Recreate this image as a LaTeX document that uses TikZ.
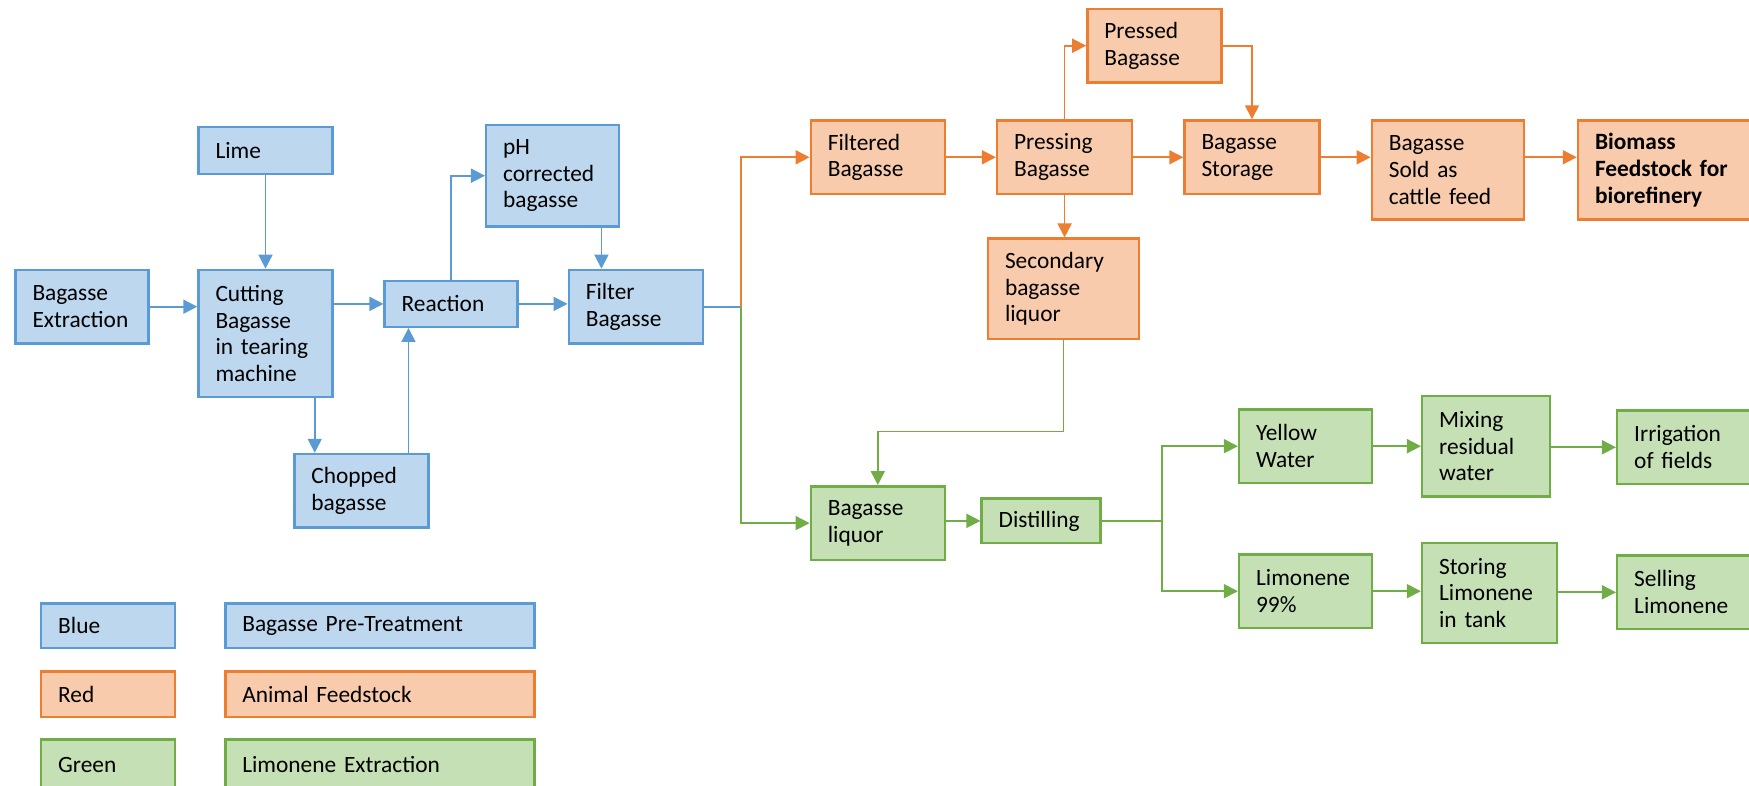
\documentclass[tikz,border=0pt]{standalone}
\usepackage{fontspec}
\setmainfont{Carlito}
\usepackage{tikz}
\usetikzlibrary{positioning,arrows.meta,calc}

\definecolor{blueFill}{HTML}{BDD7EE}
\definecolor{blueLine}{HTML}{5B9BD5}
\definecolor{orangeFill}{HTML}{F8CBAD}
\definecolor{orangeLine}{HTML}{ED7D31}
\definecolor{greenFill}{HTML}{C5E0B4}
\definecolor{greenLine}{HTML}{70AD47}

\begin{document}
\begin{tikzpicture}[font=\fontsize{6.65}{7.6}\selectfont,
  box/.style={draw, line width=0.7pt, align=left, inner xsep=0.17cm, inner ysep=0pt, anchor=center},
  pre/.style={box, draw=blueLine, fill=blueFill},
  feed/.style={box, draw=orangeLine, fill=orangeFill},
  lim/.style={box, draw=greenLine, fill=greenFill},
  link/.style={-{Triangle[length=1.4mm,width=1.4mm]}, line width=0.5pt},
  bluelink/.style={link, blueLine},
  orangelink/.style={link, orangeLine},
  greenlink/.style={link, greenLine}]
\useasboundingbox (0,0) rectangle (17.49,7.85);

% pre-treatment
\node[pre, text width=0.99cm, minimum height=0.736cm] (bext) at (0.82,4.783) {Bagasse\\Extraction};
\node[pre, text width=1.00cm, minimum height=0.468cm] (lime) at (2.655,6.344) {Lime};
\node[pre, text width=1.00cm, minimum height=1.272cm] (cut) at (2.655,4.515) {Cutting\\Bagasse\\in tearing\\machine};
\node[pre, text width=0.99cm, minimum height=0.457cm] (react) at (4.512,4.811) {Reaction};
\node[pre, text width=1.00cm, minimum height=0.736cm] (chop) at (3.614,2.942) {Chopped\\bagasse};
\node[pre, text width=0.99cm, minimum height=1.015cm] (ph) at (5.527,6.093) {pH\\corrected\\bagasse};
\node[pre, text width=1.00cm, minimum height=0.736cm] (filt) at (6.358,4.783) {Filter\\Bagasse};

% animal feedstock
\node[feed, text width=1.00cm, minimum height=0.736cm] (filtd) at (8.778,6.277) {Filtered\\Bagasse};
\node[feed, text width=1.01cm, minimum height=0.736cm] (press) at (10.646,6.277) {Pressing\\Bagasse};
\node[feed, text width=1.00cm, minimum height=0.736cm] (pressd) at (11.544,7.393) {Pressed\\Bagasse};
\node[feed, text width=1.01cm, minimum height=0.736cm] (store) at (12.52,6.277) {Bagasse\\Storage};
\node[feed, text width=1.18cm, minimum height=0.992cm] (sold) at (14.478,6.149) {Bagasse\\Sold as\\cattle feed};
\node[feed, text width=1.48cm, minimum height=0.992cm, font=\fontsize{6.65}{7.6}\selectfont\bfseries] (biom) at (16.69,6.149) {Biomass\\Feedstock for\\biorefinery};
\node[feed, text width=1.17cm, minimum height=1.004cm] (sec) at (10.635,4.961) {Secondary\\bagasse\\liquor};

% limonene extraction
\node[lim, text width=1.00cm, minimum height=0.736cm] (bliq) at (8.778,2.619) {Bagasse\\liquor};
\node[lim, text width=0.85cm, minimum height=0.446cm] (dist) at (10.412,2.641) {Distilling};
\node[lim, text width=0.99cm, minimum height=0.736cm] (yell) at (13.056,3.388) {Yellow\\Water};
\node[lim, text width=0.94cm, minimum height=1.004cm] (mix) at (14.862,3.389) {Mixing\\residual\\water};
\node[lim, text width=1.09cm, minimum height=0.736cm] (irr) at (16.887,3.377) {Irrigation\\of fields};
\node[lim, text width=0.99cm, minimum height=0.736cm] (limo) at (13.056,1.938) {Limonene\\99\%};
\node[lim, text width=1.01cm, minimum height=0.996cm] (stor) at (14.896,1.92) {Storing\\Limonene\\in tank};
\node[lim, text width=1.09cm, minimum height=0.736cm] (sell) at (16.887,1.927) {Selling\\Limonene};

% key
\node[pre, text width=1.00cm, minimum height=0.446cm] (kblue) at (1.082,1.593) {Blue};
\node[pre, text width=2.75cm, minimum height=0.446cm] (kbluet) at (3.798,1.593) {Bagasse Pre-Treatment};
\node[feed, text width=1.00cm, minimum height=0.455cm] (kred) at (1.082,0.907) {Red};
\node[feed, text width=2.75cm, minimum height=0.455cm] (kredt) at (3.798,0.907) {Animal Feedstock};
\node[lim, text width=1.00cm, minimum height=0.5cm] (kgreen) at (1.082,0.205) {Green};
\node[lim, text width=2.75cm, minimum height=0.5cm] (kgreent) at (3.798,0.205) {Limonene Extraction};

% blue links
\draw[bluelink] (bext.east) -- (cut.west |- bext.east);
\draw[bluelink] (lime) -- (cut);
\draw[bluelink] (cut.east |- react) -- (react.west);
\draw[bluelink] ([xshift=-0.19cm]cut.south east) -- ([xshift=-0.19cm]cut.south east |- chop.north);
\draw[bluelink] ([xshift=0.25cm]react.south west |- chop.north) -- ([xshift=0.25cm]react.south west);
\draw[bluelink] (react.north) |- (ph.west);
\draw[bluelink] ([xshift=-0.19cm]ph.south east) -- ([xshift=-0.19cm]ph.south east |- filt.north);
\draw[bluelink] (react.east) -- (filt.west |- react.east);

\coordinate (fork) at ($(filt.east)+(0.37,0)$);
\draw[blueLine, line width=0.5pt] (filt.east) -- (fork);
\draw[orangelink] (fork) |- (filtd.west);
\draw[greenlink] (fork) |- (bliq.west);

% orange links
\draw[orangelink] (filtd) -- (press);
\draw[orangelink] (press.north) |- (pressd.west);
\draw[orangelink] (pressd.east) -| (store.north);
\draw[orangelink] (press) -- (store);
\draw[orangelink] (store.east) -- (sold.west |- store.east);
\draw[orangelink] (sold.east |- store.east) -- (biom.west |- store.east);
\draw[orangelink] (press.south) -- (press.south |- sec.north);

% green links
\coordinate (bend) at ($(bliq.north)+(0,0.535)$);
\draw[greenlink] (sec.south) |- (bend) -- (bliq.north);
\draw[greenlink] (bliq.east |- dist) -- (dist.west);
\coordinate (fork2) at ($(dist.east)+(0.6,0)$);
\draw[greenLine, line width=0.5pt] (dist.east) -- (fork2);
\draw[greenlink] (fork2) |- (yell.west);
\draw[greenlink] (fork2) |- (limo.west);
\draw[greenlink] (yell.east) -- (mix.west |- yell.east);
\draw[greenlink] (mix.east |- irr) -- (irr.west);
\draw[greenlink] (limo.east) -- (stor.west |- limo.east);
\draw[greenlink] (stor.east |- sell) -- (sell.west);
\end{tikzpicture}
\end{document}
